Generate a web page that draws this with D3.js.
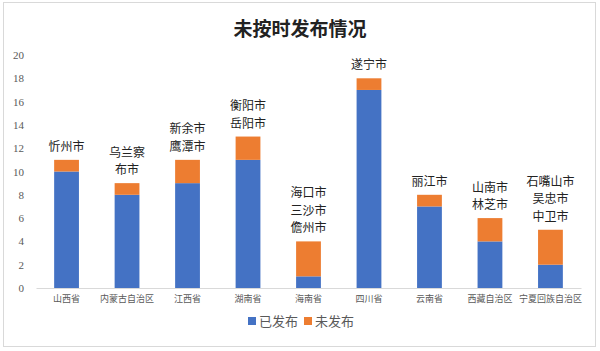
<!DOCTYPE html>
<html>
<head>
<meta charset="utf-8">
<script src="https://cdn.jsdelivr.net/npm/d3@7"></script>
<style>
  body { margin: 0; background: #fff; }
  svg { display: block; }
</style>
</head>
<body>
<div id="chart"></div>
<script>
// data
const provinces = ["山西省", "内蒙古自治区", "江西省", "湖南省", "海南省", "四川省", "云南省", "西藏自治区", "宁夏回族自治区"]
const published = [10, 8, 9, 11, 1, 17, 7, 4, 2]
const unpublished = [1, 1, 2, 2, 3, 1, 1, 2, 3]
const cityLabels = [
  ["忻州市"],
  ["乌兰察", "布市"],
  ["新余市", "鹰潭市"],
  ["衡阳市", "岳阳市"],
  ["海口市", "三沙市", "儋州市"],
  ["遂宁市"],
  ["丽江市"],
  ["山南市", "林芝市"],
  ["石嘴山市", "吴忠市", "中卫市"]
]
const yTicks = [0, 2, 4, 6, 8, 10, 12, 14, 16, 18, 20]
const seriesNames = ["已发布", "未发布"]
const colors = ["#4472C4", "#ED7D31"]

const width = 600, height = 351
const margin = {top: 55, right: 19, bottom: 63, left: 36}
const cjk = "'Noto Sans CJK SC', sans-serif"
const lineGap = 17.5

const svg = d3.select("#chart").append("svg")
    .attr("width", width)
    .attr("height", height)

// frame
svg.append("rect")
    .attr("x", 3.5).attr("y", 2.5)
    .attr("width", 592).attr("height", 344)
    .attr("fill", "#fff")
    .attr("stroke", "#d9d9d9")

// title
svg.append("text")
    .attr("x", 300).attr("y", 36)
    .attr("text-anchor", "middle")
    .style("font-family", cjk)
    .style("font-weight", "bold")
    .style("font-size", "19px")
    .attr("fill", "#222")
    .text("未按时发布情况")

const xScale = d3.scaleBand()
    .domain(provinces)
    .range([margin.left, width - margin.right])
    .paddingInner(0.59)
    .paddingOuter(0.3)

const yScale = d3.scaleLinear()
    .domain([0, 20])
    .range([height - margin.bottom, margin.top])

// stack the data
const rows = provinces.map(function(p, i) { return {prov: p, a: published[i], b: unpublished[i]} })
const stacked = d3.stack().keys(["a", "b"])(rows)

svg.append("g")
  .selectAll("g")
    .data(stacked)
    .enter()
    .append("g")
    .attr("fill", function(d, i) { return colors[i] })
  .selectAll("rect")
    .data(function(d) { return d })
    .enter()
    .append("rect")
    .attr("x", function(d) { return xScale(d.data.prov) })
    .attr("y", function(d) { return yScale(d[1]) })
    .attr("width", xScale.bandwidth())
    .attr("height", function(d) { return yScale(d[0]) - yScale(d[1]) })

// y-as
const yAxis = svg.append("g")
    .attr("transform", "translate(" + margin.left + ",0)")
    .call(d3.axisLeft(yScale).tickValues(yTicks).tickSize(0).tickPadding(12))
yAxis.select(".domain").remove()
yAxis.selectAll("text")
    .style("font-family", "'Liberation Serif', serif")
    .style("font-size", "11px")
    .attr("fill", "#595959")

// x-as
const xAxis = svg.append("g")
    .attr("transform", "translate(0," + yScale(0) + ")")
    .call(d3.axisBottom(xScale).tickSize(0).tickPadding(8))
xAxis.select(".domain").attr("stroke", "#d9d9d9")
xAxis.selectAll("text")
    .style("font-family", cjk)
    .style("font-size", "9px")
    .attr("fill", "#595959")

// city labels above the bars
const labels = svg.append("g")
  .selectAll("text")
    .data(rows)
    .enter()
    .append("text")
    .attr("text-anchor", "middle")
    .style("font-family", cjk)
    .style("font-size", "12px")
    .attr("fill", "#222")
    .attr("transform", function(d, i) {
      const n = cityLabels[i].length
      const yTop = yScale(d.a + d.b) - 9 - (n - 1) * lineGap
      return "translate(" + (xScale(d.prov) + xScale.bandwidth() / 2) + "," + yTop + ")"
    })
labels.selectAll("tspan")
    .data(function(d, i) { return cityLabels[i] })
    .enter()
    .append("tspan")
    .attr("x", 0)
    .attr("y", function(d, j) { return j * lineGap })
    .text(function(d) { return d })

// legend
const legend = svg.append("g")
    .attr("transform", "translate(248,326)")
seriesNames.forEach(function(name, i) {
  const g = legend.append("g").attr("transform", "translate(" + (i * 56) + ",0)")
  g.append("rect")
      .attr("x", 0).attr("y", -9)
      .attr("width", 8).attr("height", 8)
      .attr("fill", colors[i])
  g.append("text")
      .attr("x", 11).attr("y", 0)
      .style("font-family", cjk)
      .style("font-size", "13px")
      .attr("fill", "#595959")
      .text(name)
})
</script>
</body>
</html>
